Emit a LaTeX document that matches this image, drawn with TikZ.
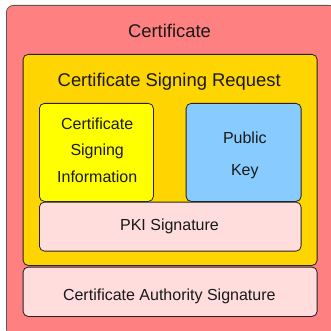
\documentclass[tikz,border=0pt]{standalone}
\usepackage{fontspec}
\setmainfont{Liberation Sans}
\definecolor{certred}{HTML}{FF8080}
\definecolor{csrgold}{HTML}{FFD500}
\definecolor{infoyellow}{HTML}{FFFF00}
\definecolor{keyblue}{HTML}{88CCFF}
\definecolor{sigpink}{HTML}{FFDDDD}
\definecolor{edgedark}{HTML}{222222}
\begin{document}
\begin{tikzpicture}[x=1pt,y=-1pt,
  box/.style={draw=edgedark, line width=0.8pt, rounded corners=5pt, inner sep=0pt, anchor=north west},
  biglabel/.style={font=\fontsize{18.4}{20}\selectfont, inner sep=0pt, anchor=base, text=black!90},
  smalllabel/.style={font=\fontsize{16}{18}\selectfont, inner sep=0pt, anchor=base, text=black!90}]
\useasboundingbox (0,0) rectangle (331,331);
\fill[white] (0,0) rectangle (331,331);
% containers
\node[box, draw=black!65, rounded corners=7pt, fill=certred, minimum width=330pt, minimum height=330pt] (cert) at (6,5) {};
\node[box, fill=csrgold, minimum width=294pt, minimum height=211pt] (csr) at (22.7,54) {};
\node[box, fill=infoyellow, minimum width=114pt, minimum height=98pt] (info) at (39,103) {};
\node[box, fill=keyblue, minimum width=115pt, minimum height=98pt] (key) at (185.7,103) {};
\node[box, fill=sigpink, minimum width=261.7pt, minimum height=49pt] (pki) at (39,201.7) {};
\node[box, fill=sigpink, minimum width=294pt, minimum height=49.3pt] (ca) at (22.7,266.7) {};
% labels
\node[biglabel] (certtext) at (169.5,37.7) {Certificate};
\node[biglabel] (csrtext) at (169.2,87) {Certificate Signing Request};
\node[smalllabel] (info1) at (97.2,129.4) {Certificate};
\node[smalllabel] (info2) at (97.2,155.9) {Signing};
\node[smalllabel] (info3) at (97.2,182.3) {Information};
\node[smalllabel] (key1) at (244.8,143.3) {Public};
\node[smalllabel] (key2) at (244.8,175.3) {Key};
\node[smalllabel] (pkitext) at (169.5,230.7) {PKI Signature};
\node[smalllabel] (catext) at (169.3,300) {Certificate Authority Signature};
\end{tikzpicture}
\end{document}
